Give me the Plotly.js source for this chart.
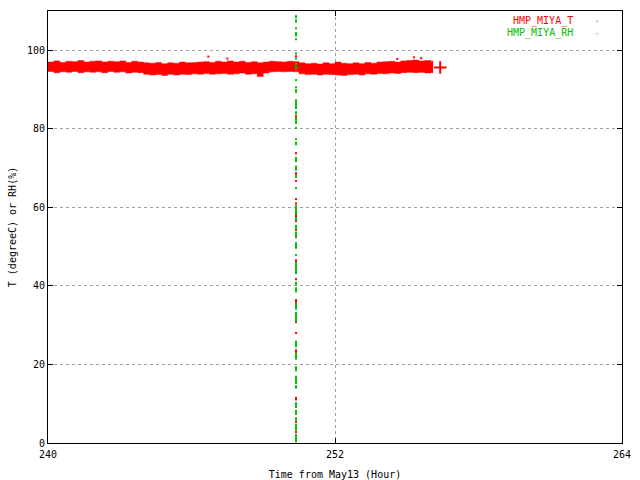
<!DOCTYPE html>
<html>
<head>
<meta charset="utf-8">
<script src="https://cdn.plot.ly/plotly-3.0.1.min.js"></script>
<style>html,body{margin:0;padding:0;background:#fff;}#chart{width:640px;height:480px;}</style>
</head>
<body>
<div id="chart"></div>
<script>
// ---- data ----
// HMP_MIYA_T: dense band of points, stored as an upper / lower envelope per quarter hour
const tHours = [240,240.25,240.5,240.75,241,241.25,241.5,241.75,242,242.25,242.5,242.75,243,243.25,243.5,243.75,
  244,244.25,244.5,244.75,245,245.25,245.5,245.75,246,246.25,246.5,246.75,247,247.25,247.5,247.75,
  248,248.25,248.5,248.75,249,249.25,249.5,249.75,250,250.25,250.5,250.75,251,251.25,251.5,251.75,
  252,252.25,252.5,252.75,253,253.25,253.5,253.75,254,254.25,254.5,254.75,255,255.25,255.5,255.75,256,256.1];
const tHigh = [97.0,97.3,96.9,97.2,97.1,97.4,97.0,97.2,97.3,97.0,97.2,97.1,97.3,96.9,97.2,97.0,
  96.8,96.7,96.9,96.6,96.8,96.7,97.0,96.8,96.9,97.0,97.1,96.9,97.2,97.0,97.3,97.0,
  97.2,96.9,97.1,96.8,97.0,97.2,97.1,97.0,97.2,97.1,96.8,96.6,96.7,96.5,96.8,96.6,
  97.0,96.7,96.6,96.8,96.6,96.9,96.7,97.0,97.1,97.2,97.0,97.3,97.4,97.5,97.3,97.4,97.2,97.0];
const tLow = [94.6,94.3,94.5,94.4,94.6,94.3,94.5,94.4,94.5,94.3,94.6,94.4,94.5,94.2,94.4,94.3,
  93.9,93.7,93.8,93.6,93.9,93.7,93.9,93.8,94.0,93.9,94.1,93.9,94.0,94.1,93.9,94.0,
  94.2,93.9,94.0,93.3,94.2,94.5,94.6,94.5,94.6,94.5,94.0,93.8,93.9,93.7,93.9,93.8,
  93.7,93.6,93.8,93.9,93.7,94.0,93.9,94.1,94.0,94.2,94.1,94.3,94.4,94.3,94.4,94.2,94.3,94.5];
// isolated T points above the band
const tSpikeHours = [246.7, 247.5, 254.6, 255.3, 255.6];
const tSpikeValues = [98.4, 97.9, 97.8, 98.2, 98.0];
// last T point (drawn with a plus sign)
const tLastHour = [256.4];
const tLastValue = [95.6];
// the column of points at one time stamp
const spikeHour = 250.37;
const tColumnValues = [98.5,83.2,82.8,73.8,72.0,68.7,68.2,66.7,62.1,61.0,58.2,57.8,56.5,55.2,54.2,52.9,52.4,
  46.5,46.1,44.5,41.7,36.4,36.0,35.6,30.8,28.0,23.6,23.2,11.5,11.1,9.2,5.3,4.0,2.8,2.0];
const rhColumnValues = [108.7,108.4,107.6,107.3,105.6,104.4,104.1,103.8,102.8,99.2,97.9,96.5,95.8,95.2,92.4,90.6,
  89.9,89.4,87.3,86.8,86.3,85.8,85.3,84.2,83.9,82.7,82.3,81.9,81.5,80.2,77.4,76.5,76.1,72.6,72.2,71.8,
  70.4,70.0,69.6,68.1,67.7,64.9,60.4,60.0,59.6,59.2,58.8,58.4,57.3,56.9,55.3,54.9,54.5,53.5,53.1,52.6,
  50.9,50.5,50.1,49.7,47.9,45.9,45.5,45.1,44.6,44.2,43.8,43.3,40.8,40.4,39.4,39.0,38.6,35.4,35.0,34.6,
  34.2,33.1,32.7,32.3,31.9,31.5,31.1,25.8,25.4,25.0,24.6,22.7,22.3,21.9,21.5,19.3,18.9,18.5,16.9,16.5,
  16.1,15.7,15.3,14.5,14.1,10.1,9.7,9.3,8.2,7.8,7.4,6.3,5.9,4.6,4.2,3.8,3.4,2.0,1.6,1.2,0.8,0.4];
const seriesNames = ["HMP_MIYA_T", "HMP_MIYA_RH"];
const xTickVals = [240, 252, 264];
const yTickVals = [0, 20, 40, 60, 80, 100];

// ---- styles ----
const RED = "#ff0000", GREEN = "#00c000";
const FONT = {family: "DejaVu Sans Mono, monospace", size: 10, color: "#000"};

const traces = [
  {x: tHours, y: tLow, type: "scatter", mode: "lines", line: {color: RED, width: 0.5, shape: "hv"},
   hoverinfo: "skip", showlegend: false},
  {x: tHours, y: tHigh, type: "scatter", mode: "lines", fill: "tonexty", fillcolor: RED,
   line: {color: RED, width: 0.5, shape: "hv"}, name: seriesNames[0], showlegend: false},
  {x: tSpikeHours, y: tSpikeValues, type: "scatter", mode: "markers",
   marker: {color: RED, size: 2, symbol: "square", line: {width: 0}}, showlegend: false},
  {x: tColumnValues.map(() => spikeHour), y: tColumnValues, type: "scatter", mode: "markers",
   marker: {color: RED, size: 2, symbol: "square", line: {width: 0}}, showlegend: false},
  {x: rhColumnValues.map(() => spikeHour), y: rhColumnValues, type: "scatter", mode: "markers",
   marker: {color: GREEN, size: 2, symbol: "square", line: {width: 0}}, name: seriesNames[1], showlegend: false},
  {x: tLastHour, y: tLastValue, type: "scatter", mode: "markers",
   marker: {color: RED, size: 9, symbol: "cross-thin", line: {color: RED, width: 2}}, showlegend: false}
];

const axisCommon = {
  showline: true, linecolor: "#000", linewidth: 1, mirror: "ticks",
  ticks: "inside", ticklen: 5, tickcolor: "#000", tickwidth: 1,
  showgrid: true, gridcolor: "#a0a0a0", gridwidth: 1, griddash: "3px,3px",
  zeroline: false, tickfont: FONT, fixedrange: true
};

const layout = {
  width: 640, height: 480,
  margin: {l: 48, r: 18, t: 11, b: 37, pad: 0},
  paper_bgcolor: "#fff", plot_bgcolor: "#fff",
  font: FONT,
  showlegend: false,
  xaxis: Object.assign({}, axisCommon, {
    range: [240, 264], tickvals: xTickVals, ticktext: xTickVals.map(String),
    ticklabelstandoff: 2,
    title: {text: "Time from May13 (Hour)", font: FONT, standoff: 12}
  }),
  yaxis: Object.assign({}, axisCommon, {
    range: [0, 110], tickvals: yTickVals, ticktext: yTickVals.map(String),
    title: {text: "T (degreeC) or RH(%)", font: FONT, standoff: 8}
  }),
  annotations: [
    {xref: "paper", yref: "paper", x: 0.918, y: 0.977, xanchor: "right", yanchor: "middle",
     text: seriesNames[0], showarrow: false, font: Object.assign({}, FONT, {color: RED})},
    {xref: "paper", yref: "paper", x: 0.918, y: 0.948, xanchor: "right", yanchor: "middle",
     text: seriesNames[1], showarrow: false, font: Object.assign({}, FONT, {color: GREEN})}
  ],
  shapes: [
    {type: "rect", xref: "paper", yref: "paper", x0: 0.9555, x1: 0.9575, y0: 0.975, y1: 0.9775,
     fillcolor: RED, line: {width: 0}},
    {type: "rect", xref: "paper", yref: "paper", x0: 0.9555, x1: 0.9575, y0: 0.946, y1: 0.9485,
     fillcolor: GREEN, line: {width: 0}}
  ]
};

Plotly.newPlot("chart", traces, layout, {displayModeBar: false, staticPlot: true});
</script>
</body>
</html>
